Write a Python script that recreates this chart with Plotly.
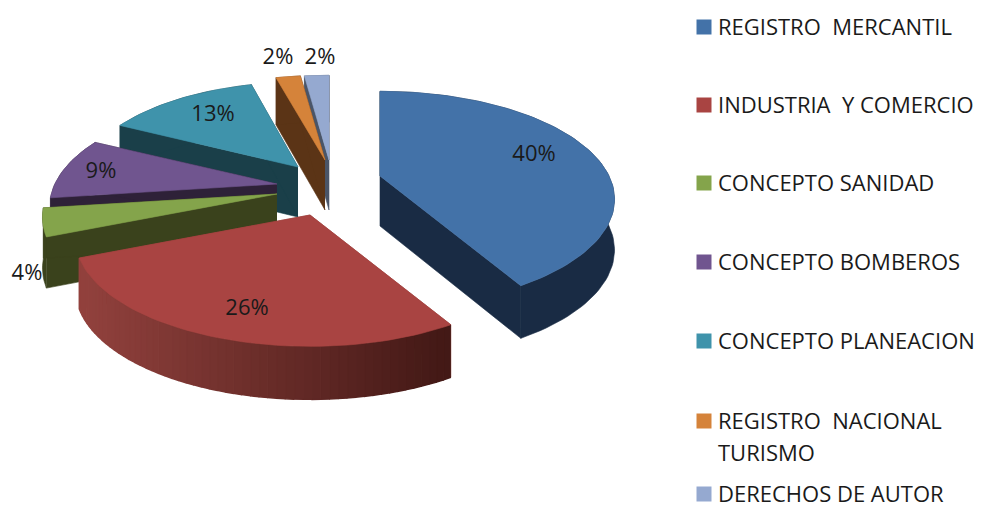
import math
import plotly.graph_objects as go

categories = ["REGISTRO\u00a0 MERCANTIL", "INDUSTRIA\u00a0 Y COMERCIO", "CONCEPTO SANIDAD", "CONCEPTO BOMBEROS",
              "CONCEPTO PLANEACION", "REGISTRO\u00a0 NACIONAL", "DERECHOS DE AUTOR"]
values = [40, 26, 4, 9, 13, 2, 2]
labels = ["40%", "26%", "4%", "9%", "13%", "2%", "2%"]

top_colors = ["#4372a8", "#a94442", "#84a44b", "#70558f", "#3f93ab", "#d5833a", "#95a9d0"]
wall_colors = ["#192b44", "#8f403c", "#3a421c", "#2e2138", "#1a3f49", "#5b3416", "#4a5568"]
apex = [(380, 176), (310, 215), (277, 194), (277, 184), (298, 167), (325, 160), (329, 160)]
x_scale = [1, 1, 1, 0.97, 0.95, 1, 1]
label_xy = [(534, 155), (247, 309), (27, 274), (101, 172), (213, 115), (278, 58), (320, 58)]
legend_y = [29, 107, 185, 264, 343, 423, 496]

R, Q, K = 229, 103, 0.216
total = sum(values)
WIDTH, HEIGHT, PAGE_MARGIN = 987, 510, 8


def project(theta, c, sx):
    u, v = math.sin(theta), -math.cos(theta)
    d = 1 - K * v
    return c[0] + sx * R * u / d, c[1] + Q * v / d, 50 + 3 * v


def red_shade(x):
    t = min(1, max(0, (x - 80) / 365))
    a, b = (0x93, 0x42, 0x3e), (0x43, 0x19, 0x16)
    return "rgb(%d,%d,%d)" % tuple(a[k] + (b[k] - a[k]) * t for k in range(3))


fig = go.Figure()


def poly(xs, ys, color, width=0.6):
    fig.add_trace(go.Scatter(x=xs, y=ys, mode="lines", fill="toself", fillcolor=color,
                             line=dict(color=color, width=width), hoverinfo="skip", showlegend=False))


bounds = [0]
for val in values:
    bounds.append(bounds[-1] + val / total * 2 * math.pi)

for i in [6, 5, 4, 3, 2, 0, 1]:
    a0, a1, c = bounds[i], bounds[i + 1], apex[i]
    n = max(4, int((a1 - a0) / 0.03))
    arc = [project(a0 + (a1 - a0) * j / n, c, x_scale[i]) for j in range(n + 1)]
    # radial faces
    for p in (arc[0], arc[-1]):
        poly([c[0], p[0], p[0], c[0]], [c[1], p[1], p[1] + p[2], c[1] + 50], wall_colors[i])
    # outer wall
    if i == 1:
        for j in range(n):
            p, q = arc[j], arc[j + 1]
            poly([p[0], q[0], q[0], p[0]], [p[1], q[1], q[1] + q[2], p[1] + p[2]],
                 red_shade((p[0] + q[0]) / 2), width=1.5)
    else:
        poly([p[0] for p in arc] + [p[0] for p in reversed(arc)],
             [p[1] for p in arc] + [p[1] + p[2] for p in reversed(arc)], wall_colors[i])
    # top
    poly([c[0]] + [p[0] for p in arc] + [c[0]], [c[1]] + [p[1] for p in arc] + [c[1]], top_colors[i])

FONT = "Open Sans"
fig.add_trace(go.Scatter(x=[p[0] for p in label_xy], y=[p[1] for p in label_xy], mode="text", text=labels,
                         textposition="middle center", textfont=dict(family=FONT, size=22, color="#1a1a1a"),
                         hoverinfo="skip", showlegend=False))
fig.add_trace(go.Scatter(x=[704] * len(legend_y), y=[y - 2 for y in legend_y], mode="markers",
                         marker=dict(symbol="square", size=15, color=top_colors, line=dict(width=0)),
                         hoverinfo="skip", showlegend=False))
fig.add_trace(go.Scatter(x=[718] * (len(legend_y) + 1), y=legend_y + [455],
                         mode="text", text=categories + ["TURISMO"], textposition="middle right",
                         textfont=dict(family=FONT, size=22, color="#1a1a1a"), hoverinfo="skip", showlegend=False))

# The page keeps an 8 px body margin, so the axes start at that offset.
fig.update_layout(width=WIDTH - PAGE_MARGIN, height=HEIGHT - PAGE_MARGIN, margin=dict(l=0, r=0, t=0, b=0),
                  paper_bgcolor="white", plot_bgcolor="white", showlegend=False,
                  xaxis=dict(range=[PAGE_MARGIN, WIDTH], visible=False, fixedrange=True),
                  yaxis=dict(range=[HEIGHT, PAGE_MARGIN], visible=False, fixedrange=True))
fig.write_html("out.html")
